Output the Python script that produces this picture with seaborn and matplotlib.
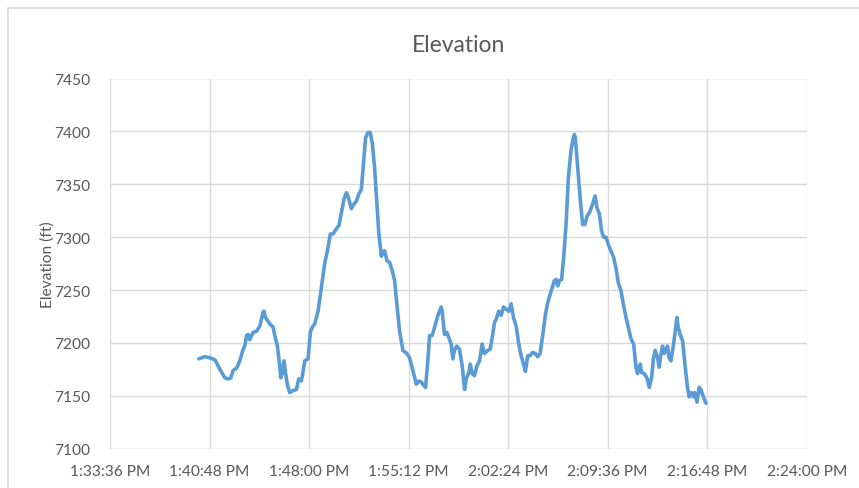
import matplotlib
matplotlib.use("Agg")
import matplotlib.pyplot as plt
import seaborn as sns
import pandas as pd
from matplotlib.ticker import FuncFormatter, FixedLocator, MultipleLocator
from matplotlib.lines import Line2D

# ---- data ----
minutes_after_1pm = [
    40.03, 40.46, 40.82, 41.19, 41.55, 41.91, 42.15, 42.34, 42.51, 42.75,
    42.99, 43.23, 43.35, 43.48, 43.59, 43.71, 43.95, 44.20, 44.44, 44.67,
    44.75, 44.85, 45.16, 45.40, 45.52, 45.71, 45.88, 45.95, 46.05, 46.19,
    46.29, 46.44, 46.60, 46.84, 47.09, 47.25, 47.45, 47.69, 47.93, 48.10,
    48.29, 48.41, 48.65, 48.89, 49.13, 49.37, 49.54, 49.73, 49.98, 50.16,
    50.34, 50.53, 50.70, 50.81, 51.06, 51.23, 51.42, 51.61, 51.78, 51.95,
    52.09, 52.26, 52.43, 52.58, 52.74, 52.91, 53.05, 53.23, 53.34, 53.47,
    53.63, 53.83, 54.02, 54.19, 54.35, 54.55, 54.79, 55.08, 55.27, 55.51,
    55.76, 55.94, 56.12, 56.28, 56.43, 56.59, 56.72, 56.91, 57.08, 57.32,
    57.56, 57.63, 57.80, 57.97, 58.11, 58.28, 58.40, 58.52, 58.69, 58.88,
    59.08, 59.25, 59.37, 59.56, 59.66, 59.80, 59.97, 60.13, 60.33, 60.52,
    60.69, 60.93, 61.10, 61.25, 61.41, 61.58, 61.72, 61.90, 62.06, 62.26,
    62.45, 62.62, 62.79, 62.98, 63.17, 63.34, 63.51, 63.65, 63.82, 63.99,
    64.18, 64.37, 64.54, 64.71, 64.90, 65.10, 65.26, 65.44, 65.75, 65.87,
    65.99, 66.11, 66.27, 66.42, 66.59, 66.76, 66.95, 67.10, 67.19, 67.26,
    67.43, 67.63, 67.79, 67.96, 68.11, 68.28, 68.51, 68.69, 68.83, 69.00,
    69.16, 69.31, 69.48, 69.65, 69.84, 70.03, 70.20, 70.37, 70.57, 70.73,
    70.93, 71.09, 71.29, 71.48, 71.65, 71.76, 71.96, 72.05, 72.25, 72.44,
    72.61, 72.78, 72.92, 73.04, 73.21, 73.33, 73.46, 73.57, 73.69, 73.82,
    73.93, 74.05, 74.18, 74.37, 74.49, 74.61, 74.70, 74.85, 75.02, 75.14,
    75.26, 75.38, 75.50, 75.67, 75.81, 75.91, 76.06, 76.22, 76.34, 76.53,
    76.71,
]
elevation_ft = [
    7185, 7187, 7186, 7184, 7175, 7167, 7166, 7167, 7174, 7176,
    7183, 7194, 7197, 7207, 7208, 7203, 7210, 7211, 7216, 7229,
    7230, 7224, 7218, 7215, 7207, 7197, 7178, 7167, 7171, 7183,
    7172, 7160, 7153, 7155, 7156, 7166, 7164, 7183, 7185, 7211,
    7216, 7218, 7230, 7252, 7275, 7290, 7303, 7303, 7308, 7311,
    7323, 7336, 7342, 7339, 7327, 7331, 7334, 7341, 7345, 7372,
    7394, 7399, 7399, 7388, 7366, 7331, 7303, 7282, 7286, 7287,
    7278, 7276, 7268, 7259, 7237, 7211, 7193, 7190, 7186, 7174,
    7161, 7164, 7163, 7160, 7158, 7183, 7207, 7207, 7215, 7226,
    7234, 7230, 7208, 7210, 7205, 7199, 7185, 7193, 7197, 7194,
    7178, 7156, 7166, 7172, 7180, 7171, 7169, 7178, 7183, 7199,
    7190, 7193, 7194, 7205, 7219, 7224, 7230, 7226, 7234, 7232,
    7230, 7237, 7224, 7216, 7199, 7188, 7180, 7173, 7188, 7188,
    7191, 7190, 7187, 7190, 7207, 7227, 7238, 7246, 7259, 7260,
    7254, 7259, 7260, 7281, 7312, 7356, 7382, 7393, 7397, 7394,
    7366, 7334, 7312, 7312, 7320, 7323, 7331, 7339, 7328, 7322,
    7306, 7300, 7300, 7293, 7287, 7281, 7271, 7257, 7249, 7237,
    7224, 7215, 7204, 7199, 7177, 7171, 7180, 7172, 7171, 7167,
    7158, 7167, 7186, 7193, 7186, 7177, 7190, 7197, 7190, 7193,
    7197, 7186, 7183, 7199, 7211, 7224, 7215, 7208, 7202, 7186,
    7171, 7158, 7149, 7153, 7149, 7153, 7144, 7158, 7156, 7149,
    7143,
]
x_min, x_max, x_step = 33.6, 84.0, 7.2      # minutes after 1:00 PM
y_min, y_max, y_step = 7100, 7450, 50
title = "Elevation"
y_label = "Elevation (ft)"

df = pd.DataFrame({"t": minutes_after_1pm, "elev": elevation_ft})

sns.set_theme(style="white")
plt.rcParams["font.family"] = ["Lato", "DejaVu Sans"]

fig = plt.figure(figsize=(8.59, 4.89), dpi=100)
ax = fig.add_axes([110 / 859, 1 - 449.7 / 489, (806.7 - 110) / 859, (449.7 - 79.5) / 489])

sns.lineplot(data=df, x="t", y="elev", ax=ax, color="#5B9BD5", linewidth=2.6,
             sort=False, estimator=None)

ax.set_xlim(x_min, x_max)
ax.set_ylim(y_min, y_max)
n_xt = int(round((x_max - x_min) / x_step)) + 1
ax.xaxis.set_major_locator(FixedLocator([x_min + i * x_step for i in range(n_xt)]))
ax.yaxis.set_major_locator(MultipleLocator(y_step))


def fmt_time(m, pos):
    total = int(round(m * 60))
    h = 13 + total // 3600
    mm = (total % 3600) // 60
    ss = total % 60
    suffix = "PM" if h >= 12 else "AM"
    h12 = h - 12 if h > 12 else h
    return f"{h12}:{mm:02d}:{ss:02d} {suffix}"


ax.xaxis.set_major_formatter(FuncFormatter(fmt_time))
ax.grid(True, color="#D9D9D9", linewidth=1.0)
ax.set_axisbelow(True)
for s in ax.spines.values():
    s.set_visible(False)
ax.tick_params(axis="both", length=0, labelsize=11.2, labelcolor="#595959")
ax.tick_params(axis="y", pad=14)
ax.tick_params(axis="x", pad=11)
ax.set_xlabel("")
ax.set_ylabel(y_label, fontsize=11.2, color="#595959", labelpad=0)
fig.text(0.5 * (110 + 806.7) / 859, 1 - 46 / 489, title, ha="center", va="center",
         fontsize=16.5, color="#595959")

# outer chart border (left and top visible)
fig.add_artist(Line2D([7.5 / 859, 7.5 / 859], [0, 1 - 9 / 489], color="#D9D9D9", lw=1.2,
                      transform=fig.transFigure))
fig.add_artist(Line2D([7.5 / 859, 1], [1 - 9 / 489, 1 - 9 / 489], color="#D9D9D9", lw=1.2,
                      transform=fig.transFigure))

fig.savefig("out.png", dpi=100)
